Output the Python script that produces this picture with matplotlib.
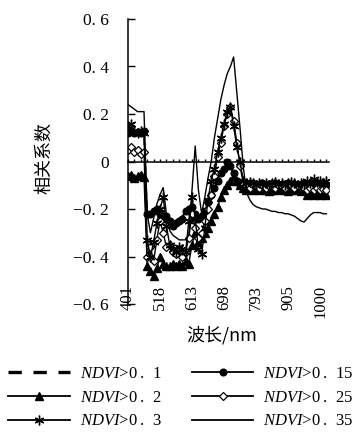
import matplotlib
matplotlib.use("Agg")
import matplotlib.pyplot as plt
import numpy as np

plt.rcParams['font.family'] = ['Liberation Serif', 'Noto Sans CJK SC', 'DejaVu Sans']
plt.rcParams['mathtext.fontset'] = 'custom'
plt.rcParams['mathtext.it'] = 'Liberation Serif:italic'
plt.rcParams['mathtext.rm'] = 'Liberation Serif'

# band index positions (categorical bands) and wavelength tick labels
tick_bands = [0, 10, 20, 30, 40, 50, 60]
tick_labels = ['401', '518', '613', '698', '793', '905', '1000']
yticks = [-0.6, -0.4, -0.2, 0.0, 0.2, 0.4, 0.6]
ytick_labels = ['\u22120. 6', '\u22120. 4', '\u22120. 2', '0', '0. 2', '0. 4', '0. 6']

ndvi_01 = [0.12, 0.12, 0.13, 0.12, 0.12, 0.125,
           -0.23, -0.22, -0.20, -0.21, -0.23, -0.24, -0.24, -0.26, -0.27, -0.26, -0.24, -0.23, -0.21, -0.20, -0.20, -0.22,
           -0.23, -0.22, -0.20, -0.17, -0.13, -0.10, -0.08, -0.06, -0.03, -0.01, -0.02, -0.05, -0.08, -0.10, -0.10,
           -0.10, -0.095, -0.10, -0.10, -0.09, -0.10, -0.10, -0.095, -0.10, -0.09, -0.10, -0.10, -0.095, -0.10, -0.09,
           -0.10, -0.10, -0.10, -0.09, -0.10, -0.11, -0.10, -0.11, -0.105, -0.11, -0.10]
ndvi_015 = [0.12, 0.13, 0.12, 0.125, 0.12, 0.13,
            -0.22, -0.22, -0.21, -0.20, -0.22, -0.24, -0.23, -0.25, -0.27, -0.26, -0.25, -0.24, -0.21, -0.20, -0.19, -0.22,
            -0.24, -0.23, -0.21, -0.17, -0.14, -0.11, -0.08, -0.05, -0.03, 0.00, -0.02, -0.05, -0.08, -0.10, -0.10,
            -0.10, -0.09, -0.10, -0.095, -0.10, -0.09, -0.10, -0.095, -0.10, -0.09, -0.10, -0.095, -0.10, -0.09,
            -0.10, -0.095, -0.10, -0.10, -0.09, -0.10, -0.11, -0.10, -0.11, -0.10, -0.11, -0.10]
ndvi_02 = [-0.06, -0.055, -0.07, -0.06, -0.055, -0.065,
           -0.44, -0.46, -0.48, -0.45, -0.40, -0.43, -0.44, -0.44, -0.43, -0.44, -0.43, -0.44, -0.42, -0.43, -0.35, -0.30,
           -0.34, -0.32, -0.30, -0.28, -0.25, -0.22, -0.19, -0.15, -0.12, -0.10, -0.08, -0.06, -0.08, -0.10, -0.11,
           -0.12, -0.11, -0.12, -0.115, -0.12, -0.11, -0.12, -0.125, -0.12, -0.11, -0.12, -0.115, -0.12, -0.125,
           -0.12, -0.11, -0.12, -0.125, -0.12, -0.14, -0.135, -0.14, -0.13, -0.14, -0.135, -0.14]
ndvi_025 = [0.05, 0.06, 0.04, 0.05, 0.03, 0.04,
            -0.40, -0.36, -0.42, -0.33, -0.25, -0.30, -0.36, -0.35, -0.38, -0.39, -0.37, -0.40, -0.38, -0.32, -0.22, -0.28,
            -0.32, -0.30, -0.25, -0.20, -0.14, -0.06, 0.02, 0.08, 0.15, 0.20, 0.23, 0.17, 0.08, -0.02, -0.09,
            -0.10, -0.11, -0.10, -0.105, -0.11, -0.10, -0.11, -0.105, -0.10, -0.11, -0.10, -0.105, -0.11, -0.10,
            -0.10, -0.11, -0.105, -0.10, -0.11, -0.12, -0.11, -0.12, -0.11, -0.12, -0.115, -0.12]
ndvi_03 = [0.15, 0.16, 0.13, 0.12, 0.13, 0.12,
           -0.33, -0.40, -0.34, -0.26, -0.20, -0.15, -0.27, -0.35, -0.37, -0.38, -0.36, -0.37, -0.38, -0.25, -0.15, -0.24,
           -0.37, -0.39, -0.28, -0.16, -0.08, -0.03, 0.04, 0.10, 0.16, 0.21, 0.23, 0.15, 0.06, 0.00, -0.08,
           -0.09, -0.085, -0.09, -0.10, -0.09, -0.095, -0.09, -0.10, -0.09, -0.085, -0.095, -0.09, -0.10, -0.09,
           -0.085, -0.09, -0.10, -0.09, -0.095, -0.08, -0.09, -0.075, -0.085, -0.08, -0.09, -0.08]
ndvi_035 = [0.24, 0.23, 0.22, 0.21, 0.21, 0.21,
            -0.22, -0.30, -0.24, -0.18, -0.14, -0.11, -0.22, -0.29, -0.31, -0.32, -0.33, -0.33, -0.33, -0.31, -0.12, 0.065,
            -0.12, -0.22, -0.15, -0.07, 0.00, 0.10, 0.18, 0.26, 0.32, 0.37, 0.40, 0.44, 0.29, 0.14,
            -0.02, -0.13, -0.16, -0.18, -0.19, -0.195, -0.20, -0.20, -0.205, -0.21, -0.21, -0.215, -0.215, -0.22,
            -0.22, -0.225, -0.23, -0.24, -0.25, -0.255, -0.24, -0.225, -0.215, -0.215, -0.215, -0.22, -0.22]

series = [
    ('0.1', ndvi_01, dict(ls=(0, (4, 3.5)), lw=1.2, marker=None)),
    ('0.15', ndvi_015, dict(ls='-', lw=1.0, marker='o', ms=4.8, mfc='black', mec='black')),
    ('0.2', ndvi_02, dict(ls='-', lw=1.0, marker='^', ms=5.5, mfc='black', mec='black')),
    ('0.25', ndvi_025, dict(ls='-', lw=1.0, marker='D', ms=4.3, mfc='white', mec='black', mew=0.9)),
    ('0.3', ndvi_03, dict(ls='-', lw=1.0, marker=(6, 2, 0), ms=7, mec='black', mew=1.0)),
    ('0.35', ndvi_035, dict(ls='-', lw=1.0, marker=None)),
]

fig = plt.figure(figsize=(3.62, 4.36), dpi=100)
ax = fig.add_axes([128 / 362, 1 - 304 / 436, (329 - 128) / 362, (304 - 19) / 436])

handles = {}
for name, vals, st in series:
    x = np.arange(len(vals))
    h, = ax.plot(x, vals, color='black', label=name, **st)
    handles[name] = h

ax.set_xlim(0, 62.8)
ax.set_ylim(-0.6, 0.6)
for s in ['top', 'right']:
    ax.spines[s].set_visible(False)
ax.spines['bottom'].set_position(('data', 0))
ax.spines['left'].set_position(('data', 0))
ax.spines['bottom'].set_linewidth(1.1)
ax.spines['left'].set_linewidth(1.1)

ax.set_yticks(yticks)
ax.set_yticklabels(ytick_labels, fontsize=12.5, fontfamily='Liberation Serif')
ax.tick_params(axis='y', direction='in', length=5, width=1.0, pad=14)
ax.set_xticks(np.arange(0, 63, 2))
ax.tick_params(axis='x', direction='in', length=2.5, width=1.0, labelbottom=False)

for b, lab in zip(tick_bands, tick_labels):
    ax.text(b, -0.52, lab, rotation=90, ha='center', va='top', fontsize=12,
            fontfamily='Liberation Serif')

fig.text(222 / 362, 1 - 335 / 436, '波长/nm', ha='center', va='center', fontsize=13,
         family=['Noto Sans CJK SC', 'DejaVu Sans'])
fig.text(44 / 362, 1 - 158 / 436, '相关系数', ha='center', va='center', rotation=90, fontsize=13,
         family=['Noto Sans CJK SC', 'DejaVu Sans'])

order = ['0.1', '0.2', '0.3', '0.15', '0.25', '0.35']
labels = []
for n in order:
    a, b = n.split('.')
    labels.append(r'$\mathit{NDVI}$' + '>' + a + '\u2009.\u2002' + b)
leg = fig.legend([handles[n] for n in order], labels, ncol=2, loc='upper left',
                 bbox_to_anchor=(8 / 362, 1 - 366 / 436), frameon=False, fontsize=12,
                 handlelength=3.7, handletextpad=0.6, columnspacing=1.8, labelspacing=0.46,
                 borderpad=0, borderaxespad=0)
for lh in leg.legend_handles:
    lh.set_linewidth(1.3)
leg.legend_handles[0].set_linewidth(2.4)

fig.savefig('out.png', dpi=100)
